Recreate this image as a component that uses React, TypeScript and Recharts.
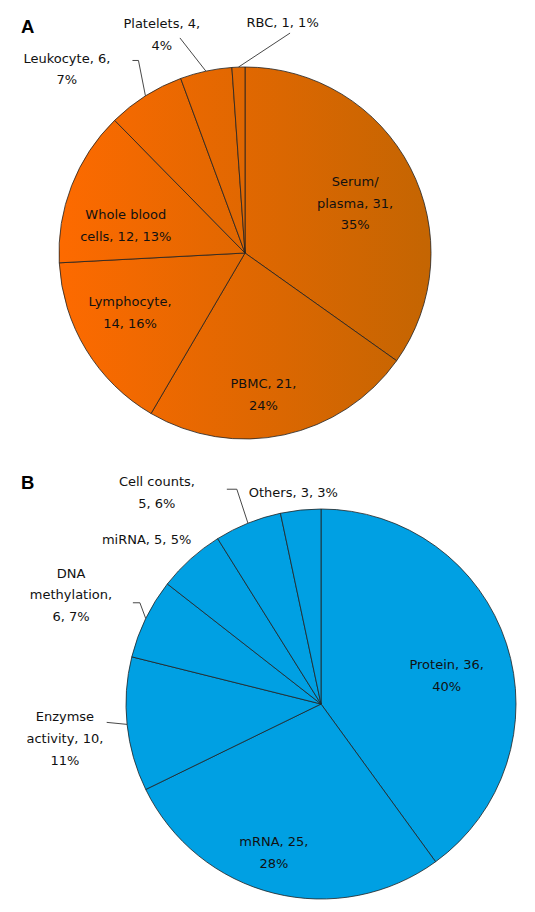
import { Cell, Pie, PieChart } from 'recharts';

// panel A: sample types
const sampleNames = ['Serum/plasma', 'PBMC', 'Lymphocyte', 'Whole blood cells', 'Leukocyte', 'Platelets', 'RBC'];
const sampleCounts = [31, 21, 14, 12, 6, 4, 1];
const sampleLabels = [
  ['Serum/', 'plasma, 31,', '35%'],
  ['PBMC, 21,', '24%'],
  ['Lymphocyte,', '14, 16%'],
  ['Whole blood', 'cells, 12, 13%'],
  ['Leukocyte, 6,', '7%'],
  ['Platelets, 4,', '4%'],
  ['RBC, 1, 1%'],
];

// panel B: marker types
const markerNames = ['Protein', 'mRNA', 'Enzymse activity', 'DNA methylation', 'miRNA', 'Cell counts', 'Others'];
const markerCounts = [36, 25, 10, 6, 5, 5, 3];
const markerLabels = [
  ['Protein, 36,', '40%'],
  ['mRNA, 25,', '28%'],
  ['Enzymse', 'activity, 10,', '11%'],
  ['DNA', 'methylation,', '6, 7%'],
  ['miRNA, 5, 5%'],
  ['Cell counts,', '5, 6%'],
  ['Others, 3, 3%'],
];

const sampleData = sampleNames.map((name, i) => ({ name, value: sampleCounts[i] }));
const markerData = markerNames.map((name, i) => ({ name, value: markerCounts[i] }));

// label placement relative to slice mid angle (r = fraction of outer radius, da = clockwise degrees)
type Lead = { r: number; da: number; h: number };
type Spot = { r: number; da: number; lead?: Lead };

const sampleSpots: Spot[] = [
  { r: 0.65, da: 2.9 },
  { r: 0.765, da: 4.7 },
  { r: 0.696, da: 3.95 },
  { r: 0.658, da: -8.2 },
  { r: 1.377, da: -11.7, lead: { r: 1.183, da: 3.4, h: 6 } },
  { r: 1.258, da: -8.7, lead: { r: 1.208, da: -4.7, h: 0 } },
  { r: 1.255, da: 11.3, lead: { r: 1.207, da: 13.6, h: 0 } },
];

const markerSpots: Spot[] = [
  { r: 0.661, da: 5.2 },
  { r: 0.799, da: 3.6 },
  { r: 1.325, da: -1.6, lead: { r: 1.103, da: 1.1, h: 0 } },
  { r: 1.399, da: -2.4, lead: { r: 1.064, da: 3.2, h: 7 } },
  { r: 1.231, da: -4.6 },
  { r: 1.373, da: -15.8, lead: { r: 1.183, da: 0.6, h: 10 } },
  { r: 1.095, da: -1.45 },
];

const RAD = Math.PI / 180;
const FONT = '"DejaVu Sans", Verdana, sans-serif';
const LINE_H = 21.7;

function polar(cx: number, cy: number, r: number, cw: number) {
  return { x: cx + r * Math.sin(cw * RAD), y: cy - r * Math.cos(cw * RAD) };
}

function makeLabel(lines: string[][], spots: Spot[]) {
  return (props: any) => {
    const { cx, cy, midAngle, outerRadius, index } = props;
    const cw = 90 - midAngle;
    const spot = spots[index];
    const text = lines[index];
    const c = polar(cx, cy, outerRadius * spot.r, cw + spot.da);
    const firstBase = c.y - ((text.length - 1) * LINE_H) / 2 + 4.7;
    let leader = null;
    if (spot.lead) {
      const a = polar(cx, cy, outerRadius, cw);
      const e = polar(cx, cy, outerRadius * spot.lead.r, cw + spot.lead.da);
      leader = (
        <polyline
          points={`${a.x},${a.y} ${e.x},${e.y} ${e.x - spot.lead.h},${e.y}`}
          fill="none"
          stroke="#333"
          strokeWidth={0.9}
        />
      );
    }
    return (
      <g key={`lbl-${index}`}>
        {leader}
        <text x={c.x} y={firstBase} textAnchor="middle" fontFamily={FONT} fontSize={13} fill="#111">
          {text.map((t, i) => (
            <tspan key={i} x={c.x} y={firstBase + i * LINE_H}>
              {t}
            </tspan>
          ))}
        </text>
      </g>
    );
  };
}

const noMargin = { top: 0, right: 0, bottom: 0, left: 0 };

export default function App() {
  return (
    <div style={{ position: 'absolute', left: 0, top: 0, width: 535, height: 912, background: '#fff' }}>
      <div style={{ position: 'absolute', left: 0, top: 0 }}>
        <PieChart width={535} height={460} margin={noMargin}>
          <defs>
            <linearGradient id="orangeFade" gradientUnits="userSpaceOnUse" x1={59} y1={0} x2={431} y2={0}>
              <stop offset="0%" stopColor="#fd6a00" />
              <stop offset="100%" stopColor="#c46502" />
            </linearGradient>
          </defs>
          <Pie
            data={sampleData}
            dataKey="value"
            nameKey="name"
            cx={245}
            cy={253}
            outerRadius={186}
            startAngle={90}
            endAngle={-270}
            stroke="#222"
            strokeWidth={0.8}
            label={makeLabel(sampleLabels, sampleSpots)}
            labelLine={false}
            isAnimationActive={false}
          >
            {sampleData.map((d) => (
              <Cell key={d.name} fill="url(#orangeFade)" />
            ))}
          </Pie>
        </PieChart>
      </div>
      <div style={{ position: 'absolute', left: 0, top: 460 }}>
        <PieChart width={535} height={452} margin={noMargin}>
          <Pie
            data={markerData}
            dataKey="value"
            nameKey="name"
            cx={321}
            cy={244}
            outerRadius={195}
            startAngle={90}
            endAngle={-270}
            stroke="#222"
            strokeWidth={0.8}
            label={makeLabel(markerLabels, markerSpots)}
            labelLine={false}
            isAnimationActive={false}
          >
            {markerData.map((d) => (
              <Cell key={d.name} fill="#00a0e3" />
            ))}
          </Pie>
        </PieChart>
      </div>
      <svg width={535} height={912} style={{ position: 'absolute', left: 0, top: 0, pointerEvents: 'none' }}>
        <text x={21} y={33} fontFamily='"Liberation Sans", Arial, sans-serif' fontWeight="bold" fontSize={18.5}>
          A
        </text>
        <text x={21} y={489} fontFamily='"Liberation Sans", Arial, sans-serif' fontWeight="bold" fontSize={18.5}>
          B
        </text>
      </svg>
    </div>
  );
}
